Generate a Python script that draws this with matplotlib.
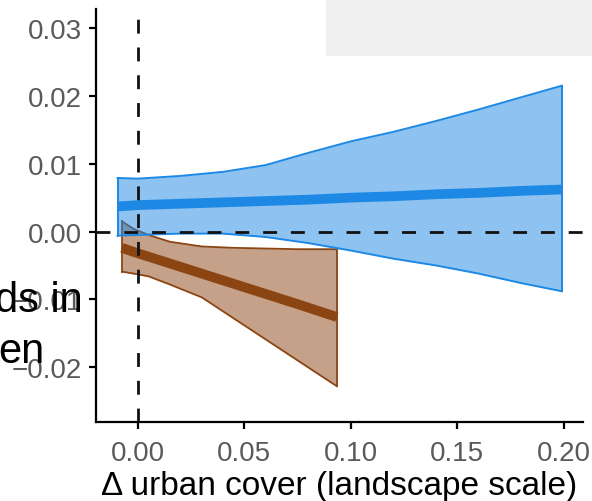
import numpy as np
import matplotlib.pyplot as plt
from matplotlib.patches import Rectangle

plt.rcParams['font.family'] = ['Liberation Sans', 'DejaVu Sans']

# blue series
blue_x = [-0.0095, 0.0, 0.02, 0.04, 0.06, 0.08, 0.10, 0.12, 0.14, 0.16, 0.18, 0.199]
blue_hi = [0.0079, 0.0078, 0.0082, 0.0088, 0.0098, 0.0116, 0.0133, 0.0147, 0.0163, 0.0180, 0.0198, 0.0215]
blue_lo = [-0.0006, -0.0005, -0.0003, -0.0003, -0.0008, -0.0017, -0.0028, -0.0040, -0.0050, -0.0062, -0.0076, -0.0088]
blue_mid = [0.0037, 0.0039, 0.0041, 0.0043, 0.0045, 0.0047, 0.0050, 0.0052, 0.0055, 0.0057, 0.0060, 0.0062]

# brown series
brown_x = [-0.0075, -0.002, 0.005, 0.015, 0.03, 0.045, 0.06, 0.075, 0.0934]
brown_hi = [0.0015, 0.0004, -0.0005, -0.0015, -0.0022, -0.0024, -0.0025, -0.0026, -0.0026]
brown_lo = [-0.0059, -0.0062, -0.0066, -0.0078, -0.0097, -0.0128, -0.0159, -0.0190, -0.0228]
brown_mid = [-0.0024, -0.0030, -0.0037, -0.0047, -0.0062, -0.0077, -0.0092, -0.0107, -0.0126]

xticks = [0.00, 0.05, 0.10, 0.15, 0.20]
yticks = [-0.02, -0.01, 0.00, 0.01, 0.02, 0.03]

blue = '#1E88E5'
brown = '#8B4513'

fig = plt.figure(figsize=(5.92, 5.02), dpi=100)
ax = fig.add_axes([0.162, 0.157, 0.823, 0.823])

# ribbons
ax.fill_between(brown_x, brown_lo, brown_hi, color=brown, alpha=0.5, lw=0, zorder=1)
ax.plot(brown_x, brown_hi, color=brown, lw=1.3, zorder=2)
ax.plot(brown_x, brown_lo, color=brown, lw=1.3, zorder=2)
ax.plot([brown_x[0], brown_x[0]], [brown_lo[0], brown_hi[0]], color=brown, lw=1.3, zorder=2)
ax.plot([brown_x[-1], brown_x[-1]], [brown_lo[-1], brown_hi[-1]], color=brown, lw=1.3, zorder=2)

ax.fill_between(blue_x, blue_lo, blue_hi, color=blue, alpha=0.5, lw=0, zorder=3)
ax.plot(blue_x, blue_hi, color=blue, lw=1.4, zorder=4)
ax.plot(blue_x, blue_lo, color=blue, lw=1.4, zorder=4)
ax.plot([blue_x[0], blue_x[0]], [blue_lo[0], blue_hi[0]], color=blue, lw=1.4, zorder=4)
ax.plot([blue_x[-1], blue_x[-1]], [blue_lo[-1], blue_hi[-1]], color=blue, lw=1.4, zorder=4)

# mean lines
ax.plot(brown_x, brown_mid, color=brown, lw=7, solid_capstyle='butt', zorder=5)
ax.plot(blue_x, blue_mid, color=blue, lw=7, solid_capstyle='butt', zorder=5)

# reference lines
ax.axhline(0, color='#111111', lw=2, dashes=(5, 5), zorder=6)
ax.axvline(0, color='#111111', lw=2, dashes=(5, 5), zorder=6)

ax.set_xlim(-0.0197, 0.209)
ax.set_ylim(-0.0281, 0.0328)
ax.set_xticks(xticks)
ax.set_xticklabels(['%.2f' % v for v in xticks])
ax.set_yticks(yticks)
ax.set_yticklabels([('%.2f' % v).replace('-', '\u2212') for v in yticks])

for s in ['top', 'right']:
    ax.spines[s].set_visible(False)
for s in ['left', 'bottom']:
    ax.spines[s].set_linewidth(1.6)
ax.tick_params(length=5, width=1.6, labelsize=20, labelcolor='#5a5a5a')
ax.tick_params(axis='x', pad=8)
ax.tick_params(axis='y', pad=5)
ax.set_xlabel('\u0394 urban cover (landscape scale)', fontsize=24, color='black', labelpad=3)

# grey box top right and clipped text at left
fig.patches.append(Rectangle((326 / 592, 1 - 56 / 502), 1 - 326 / 592, 56 / 502,
                             transform=fig.transFigure, color='#F0F0F0', zorder=10))
fig.text(83 / 592, 1 - 312 / 502, 'ds in', fontsize=30, ha='right', va='baseline', zorder=11)
fig.text(45 / 592, 1 - 363 / 502, 'en', fontsize=30, ha='right', va='baseline', zorder=11)

fig.savefig('out.png', dpi=100)
